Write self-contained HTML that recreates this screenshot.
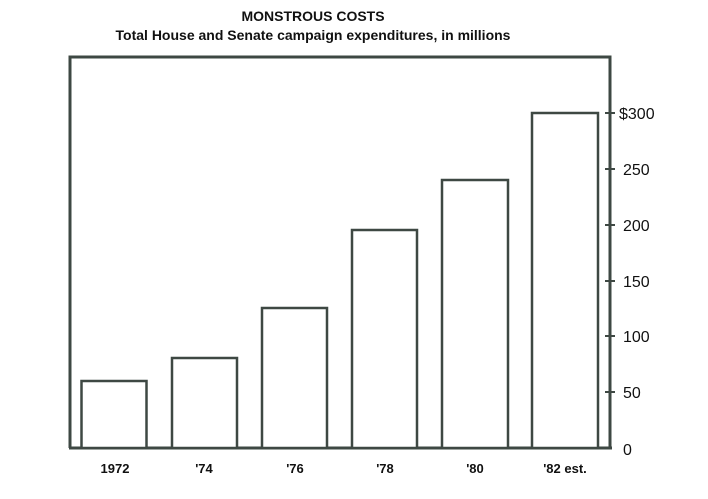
<!DOCTYPE html>
<html><head><meta charset="utf-8"><style>
body{margin:0;background:#fff;}
svg{display:block}
text{font-family:"Liberation Sans",sans-serif;fill:#111}
</style></head><body>
<svg width="708" height="499" viewBox="0 0 708 499">
<text x="313" y="21" text-anchor="middle" font-weight="bold" font-size="14">MONSTROUS COSTS</text>
<text x="313" y="40" text-anchor="middle" font-weight="bold" font-size="14">Total House and Senate campaign expenditures, in millions</text>
<g stroke="#3e4843" fill="none">
<path d="M70 448 V57 H610 V449" stroke-width="3"/>
<path d="M69 448 H612" stroke-width="3"/>
<g stroke-width="2.5" fill="#fff">
<rect x="81.5" y="381" width="65" height="67"/>
<rect x="172" y="358" width="65" height="90"/>
<rect x="262" y="308" width="65" height="140"/>
<rect x="352" y="230" width="65" height="218"/>
<rect x="442" y="180" width="66" height="268"/>
<rect x="532" y="113" width="66" height="335"/>
</g>
<g stroke-width="2">
<path d="M605 113h10M605 169h10M605 225h10M605 281h10M605 336h10M605 392h10"/>
</g>
</g>
<g font-size="16">
<text x="619" y="119">$300</text>
<text x="623" y="175">250</text>
<text x="623" y="231">200</text>
<text x="623" y="287">150</text>
<text x="623" y="342">100</text>
<text x="623" y="398">50</text>
<text x="623" y="455">0</text>
</g>
<g font-size="13" font-weight="bold" text-anchor="middle">
<text x="115" y="473">1972</text>
<text x="204" y="473">'74</text>
<text x="295" y="473">'76</text>
<text x="385" y="473">'78</text>
<text x="475" y="473">'80</text>
<text x="565" y="473">'82 est.</text>
</g>
</svg>
</body></html>
